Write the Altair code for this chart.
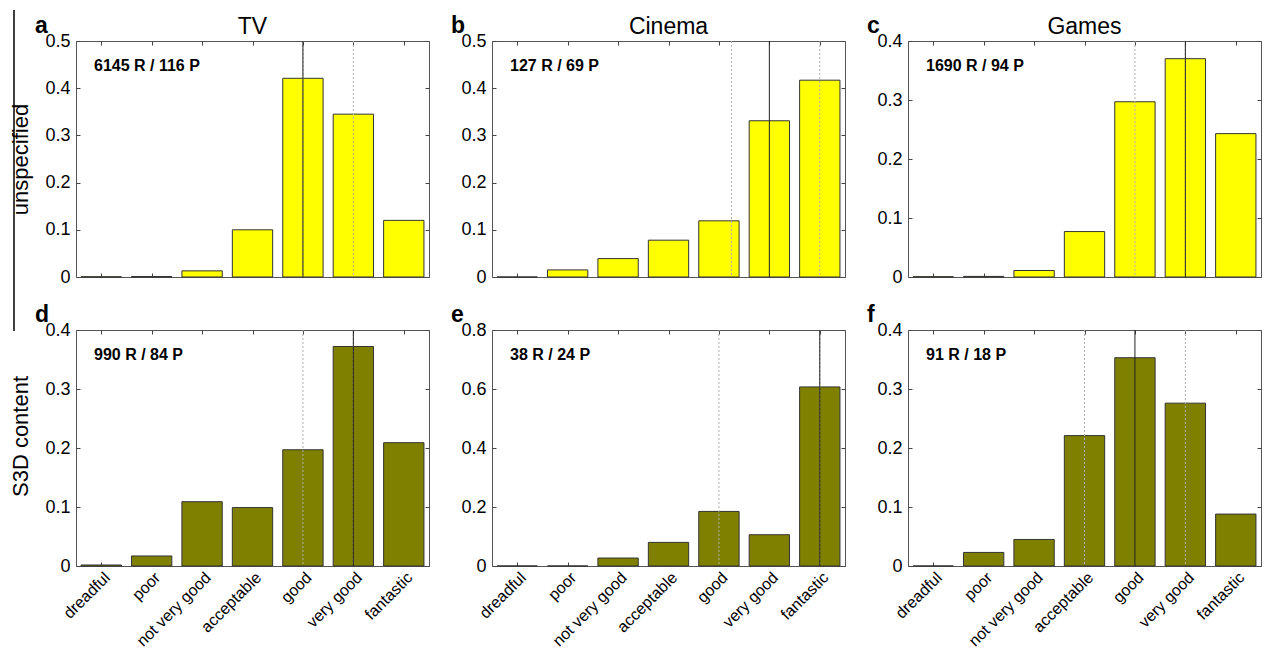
import json
import altair as alt
import pandas as pd

categories = ["dreadful", "poor", "not very good", "acceptable", "good", "very good", "fantastic"]
positions = [1, 2, 3, 4, 5, 6, 7]

col_titles = ["TV", "Cinema", "Games"]
row_titles = ["unspecified", "S3D content"]
letters = [["a", "b", "c"], ["d", "e", "f"]]
counts = [["6145 R / 116 P", "127 R / 69 P", "1690 R / 94 P"],
          ["990 R / 84 P", "38 R / 24 P", "91 R / 18 P"]]

vals_a = [0.0005, 0.001, 0.013, 0.100, 0.421, 0.345, 0.120]
vals_b = [0.0, 0.015, 0.039, 0.078, 0.119, 0.331, 0.417]
vals_c = [0.0005, 0.001, 0.011, 0.077, 0.297, 0.370, 0.243]
vals_d = [0.0017, 0.017, 0.109, 0.099, 0.197, 0.372, 0.209]
vals_e = [0.0, 0.0, 0.027, 0.080, 0.185, 0.106, 0.607]
vals_f = [0.0, 0.023, 0.045, 0.221, 0.353, 0.276, 0.088]
values = [[vals_a, vals_b, vals_c], [vals_d, vals_e, vals_f]]

medians = [[5, 6, 6], [6, 7, 5]]
quartiles = [[[5, 6], [5.25, 7], [5, 6]], [[5, 6], [5, 7], [4, 6]]]

ymax = [[0.5, 0.5, 0.4], [0.4, 0.8, 0.4]]
ystep = [[0.1, 0.1, 0.1], [0.1, 0.2, 0.1]]

fills = ["#FFFF00", "#808000"]

W, H = 353, 236
FONT = "Liberation Sans"
label_expr = json.dumps(categories) + "[datum.value - 1]"


def panel(r, c):
    df = pd.DataFrame({"pos": positions, "cat": categories, "val": values[r][c]})
    df["x0"] = df["pos"] - 0.4
    df["x1"] = df["pos"] + 0.4
    xs = alt.Scale(domain=[0.5, 7.5], nice=False, zero=False)
    ys = alt.Scale(domain=[0, ymax[r][c]], nice=False)
    n = int(round(ymax[r][c] / ystep[r][c]))
    yvals = [round(i * ystep[r][c], 2) for i in range(n + 1)]

    if r == 1:
        xaxis = alt.Axis(values=positions, labelExpr=label_expr, labelAngle=-45,
                         labelAlign="right", labelBaseline="top", labelPadding=3,
                         labelFontSize=16, labelFont=FONT, labelColor="#000",
                         labelOverlap=False, labelBound=False, labelFlush=False,
                         ticks=False, domain=False, grid=False, title=None)
    else:
        xaxis = None
    yaxis = alt.Axis(values=yvals, format="~g", labelFontSize=18, labelFont=FONT,
                     labelColor="#000", labelPadding=6, ticks=False, domain=False,
                     labelOverlap=False, labelFlush=False,
                     grid=False, minExtent=30, maxExtent=30,
                     title=row_titles[r] if c == 0 else None,
                     titleFontSize=22, titleFont=FONT, titleFontWeight="normal",
                     titleColor="#000", titlePadding=14,
                     titleY=H / 2 if r == 0 else H / 2 - 12)

    base = alt.Chart(df)
    bars = base.mark_bar(fill=fills[r], stroke="#333333", strokeWidth=1).encode(
        x=alt.X("x0:Q", scale=xs, axis=xaxis),
        x2="x1:Q",
        y=alt.Y("val:Q", scale=ys, axis=yaxis),
        y2=alt.datum(0),
    )

    def tick_axis(orient, offset, vals):
        return alt.Axis(orient=orient, offset=offset, values=vals, labels=False,
                        domain=False, grid=False, ticks=True, tickSize=4,
                        tickColor="#444444", title=None, minExtent=0, maxExtent=0)

    ticks1 = base.mark_point(opacity=0).encode(
        x=alt.X("pos:Q", scale=xs, axis=tick_axis("top", -H, positions)),
        y=alt.Y("val:Q", scale=ys, axis=tick_axis("right", -W, yvals)),
    )
    ticks2 = base.mark_point(opacity=0).encode(
        x=alt.X("pos:Q", scale=xs, axis=tick_axis("bottom", -H, positions)),
        y=alt.Y("val:Q", scale=ys, axis=tick_axis("left", -W, yvals)),
    )

    qdf = pd.DataFrame({"q": quartiles[r][c]})
    qrules = alt.Chart(qdf).mark_rule(color="#b0b0b0", strokeDash=[2, 2], strokeWidth=1).encode(
        x=alt.X("q:Q", scale=xs, axis=None)
    )
    mdf = pd.DataFrame({"m": [medians[r][c]]})
    mrule = alt.Chart(mdf).mark_rule(color="#222222", strokeWidth=1).encode(
        x=alt.X("m:Q", scale=xs, axis=None)
    )

    tdf = pd.DataFrame({"t": [counts[r][c]], "l": [letters[r][c]],
                        "h": [col_titles[c]]})
    ctext = alt.Chart(tdf).mark_text(align="left", baseline="middle", fontSize=16,
                                     fontWeight="bold", font=FONT, color="#000").encode(
        x=alt.value(18), y=alt.value(25), text="t:N")
    ltext = alt.Chart(tdf).mark_text(align="left", baseline="alphabetic", fontSize=23,
                                     fontWeight="bold", font=FONT, color="#000").encode(
        x=alt.value(-41), y=alt.value(-8), text="l:N")

    layers = [bars, ticks1, ticks2, qrules, mrule, ctext, ltext]
    if r == 0:
        htext = alt.Chart(tdf).mark_text(align="center", baseline="alphabetic", fontSize=23,
                                         font=FONT, color="#000").encode(
            x=alt.value(W / 2), y=alt.value(-7), text="h:N")
        layers.append(htext)
    if r == 0 and c == 0:
        sep = alt.Chart(tdf).mark_rule(color="#000", strokeWidth=1.5).encode(
            x=alt.value(-62), y=alt.value(-31), y2=alt.value(H + 54))
        layers.append(sep)

    return alt.layer(*layers).resolve_axis(x="independent", y="independent").properties(
        width=W, height=H)


panels = [panel(r, c) for r in range(2) for c in range(3)]
chart = alt.concat(*panels, columns=3, spacing={"row": 53, "column": 63},
                   bounds="flush").configure_view(
    stroke="#555555", strokeWidth=1
).properties(padding={"left": 0, "top": 0, "right": 0, "bottom": 0})

chart.save("out.html", embed_options={"renderer": "svg", "actions": False})
